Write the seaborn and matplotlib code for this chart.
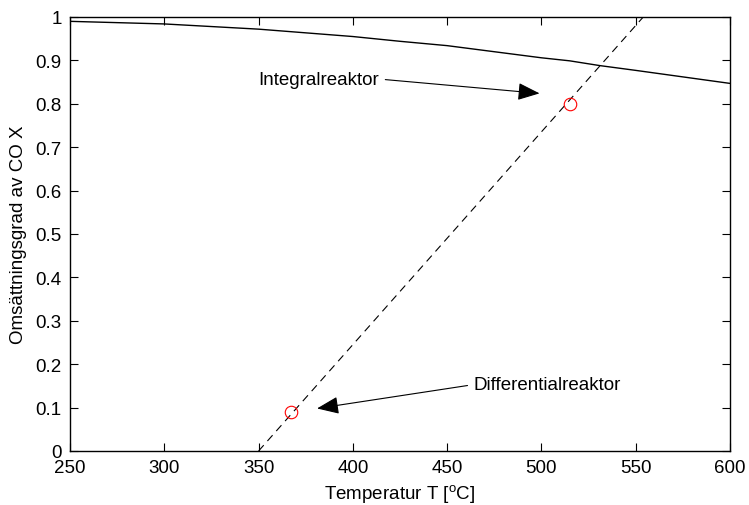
import numpy as np
import pandas as pd
import matplotlib
matplotlib.use("Agg")
import matplotlib.pyplot as plt
from matplotlib.ticker import FuncFormatter
import seaborn as sns

# jamviktskurva (heldragen)
temp_jv = [250, 300, 350, 400, 425, 450, 500, 515, 531, 550, 600]
omsattning_jv = [0.990, 0.984, 0.972, 0.955, 0.944, 0.934, 0.906, 0.899, 0.888, 0.877, 0.847]

# kinetisk linje (streckad)
temp_kin = [350, 554]
omsattning_kin = [0.0, 1.0]

# matpunkter
temp_pkt = [367, 515]
omsattning_pkt = [0.09, 0.80]

sns.set_style("ticks")
plt.rcParams['font.family'] = ['Liberation Sans', 'DejaVu Sans']
plt.rcParams['mathtext.fontset'] = 'custom'
plt.rcParams['mathtext.rm'] = 'Liberation Sans'
plt.rcParams['mathtext.it'] = 'Liberation Sans'
plt.rcParams['text.color'] = 'black'
plt.rcParams['axes.labelcolor'] = 'black'
FS = 13.5

fig = plt.figure(figsize=(7.49, 5.06), dpi=100)
ax = fig.add_axes([70/749, 1-452/506, 660/749, 434/506])

df_jv = pd.DataFrame({'T': temp_jv, 'X': omsattning_jv})
df_kin = pd.DataFrame({'T': temp_kin, 'X': omsattning_kin})
df_pkt = pd.DataFrame({'T': temp_pkt, 'X': omsattning_pkt})

sns.lineplot(data=df_jv, x='T', y='X', color='black', lw=1.0, ax=ax)
sns.lineplot(data=df_kin, x='T', y='X', color='black', lw=0.8,
             linestyle=(0, (7, 5)), ax=ax)
ax.plot(df_pkt['T'], df_pkt['X'], 'o', mfc='none', mec='red', ms=9, mew=0.8)

pil = dict(arrowstyle='-|>,head_length=1.0,head_width=0.4', color='black',
           lw=0.8, shrinkA=2, shrinkB=0)
ax.annotate('Integralreaktor', xy=(499, 0.824), xytext=(414, 0.857),
            ha='right', va='center', fontsize=FS, color='black',
            arrowprops=dict(pil, relpos=(1, 0.5)))
ax.annotate('Differentialreaktor', xy=(381, 0.098), xytext=(464, 0.153),
            ha='left', va='center', fontsize=FS, color='black',
            arrowprops=dict(pil, relpos=(0, 0.5)))

ax.set_xlim(250, 600)
ax.set_ylim(0, 1)
ax.set_xticks(np.arange(250, 601, 50))
ax.set_yticks(np.arange(0, 1.01, 0.1))
ax.yaxis.set_major_formatter(FuncFormatter(lambda v, p: f"{v:g}"))
ax.tick_params(direction='in', length=6, width=0.8, top=True, right=True,
               labelsize=FS, colors='black', pad=6)
for s in ax.spines.values():
    s.set_visible(True)
    s.set_linewidth(1.0)
    s.set_color('black')

ax.set_xlabel('Temperatur T [$^o$C]', fontsize=FS, labelpad=4)
ax.set_ylabel('Omsättningsgrad av CO X', fontsize=FS, labelpad=6)

fig.savefig('out.png', dpi=100)
